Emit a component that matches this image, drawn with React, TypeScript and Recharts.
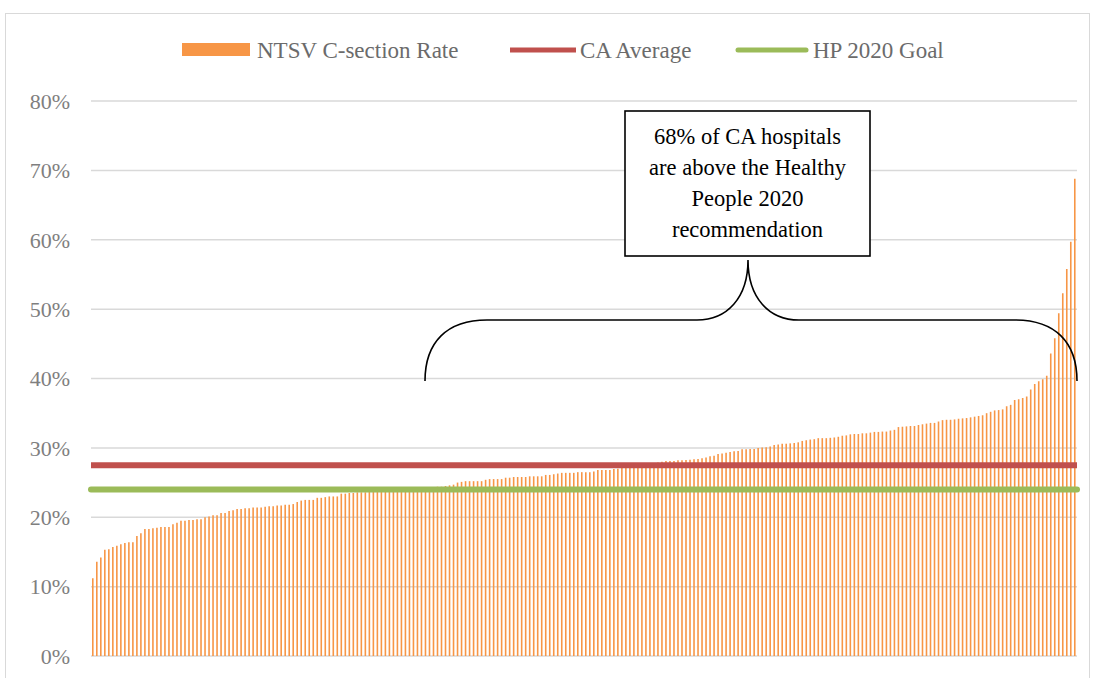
import React from "react";
import { BarChart, Bar, XAxis, YAxis, CartesianGrid, ReferenceLine, Legend } from "recharts";

// NTSV C-section rate per hospital (%), sorted ascending
const rates: number[] = [
  11.2, 13.6, 14.2, 15.3, 15.4, 15.7, 15.9, 16.1, 16.3, 16.4,
  16.4, 17.3, 17.7, 18.3, 18.3, 18.4, 18.5, 18.6, 18.6, 18.6,
  19.0, 19.2, 19.5, 19.5, 19.6, 19.6, 19.7, 19.7, 20.0, 20.1,
  20.3, 20.3, 20.6, 20.6, 20.9, 21.0, 21.2, 21.2, 21.3, 21.3,
  21.4, 21.4, 21.4, 21.5, 21.6, 21.6, 21.7, 21.7, 21.8, 21.8,
  21.9, 22.2, 22.4, 22.5, 22.5, 22.5, 22.8, 22.8, 22.9, 23.0,
  23.0, 23.0, 23.4, 23.4, 23.5, 23.5, 23.6, 23.6, 23.6, 23.7,
  23.7, 23.7, 23.8, 23.8, 23.8, 23.9, 23.9, 23.9, 24.0, 24.0,
  24.0, 24.1, 24.1, 24.2, 24.2, 24.3, 24.4, 24.4, 24.5, 24.6,
  24.7, 25.0, 25.1, 25.2, 25.2, 25.2, 25.2, 25.2, 25.4, 25.5,
  25.5, 25.5, 25.5, 25.7, 25.7, 25.8, 25.8, 25.8, 25.8, 25.9,
  25.9, 25.9, 25.9, 26.1, 26.1, 26.2, 26.3, 26.4, 26.4, 26.4,
  26.4, 26.5, 26.5, 26.5, 26.5, 26.6, 26.8, 26.8, 26.8, 26.8,
  26.95, 27.0, 27.1, 27.2, 27.3, 27.3, 27.4, 27.5, 27.6, 27.7,
  27.8, 27.9, 28.0, 28.1, 28.1, 28.1, 28.2, 28.2, 28.25, 28.3,
  28.35, 28.4, 28.5, 28.6, 28.8, 28.85, 29.1, 29.2, 29.3, 29.4,
  29.5, 29.55, 29.8, 29.8, 29.85, 29.85, 30.0, 30.05, 30.1, 30.2,
  30.4, 30.5, 30.6, 30.6, 30.65, 30.7, 30.8, 31.0, 31.1, 31.2,
  31.25, 31.4, 31.4, 31.4, 31.45, 31.5, 31.6, 31.75, 31.8, 31.95,
  32.0, 32.0, 32.1, 32.1, 32.2, 32.3, 32.3, 32.35, 32.35, 32.5,
  32.6, 33.0, 33.05, 33.1, 33.15, 33.15, 33.3, 33.4, 33.5, 33.6,
  33.6, 33.8, 34.0, 34.05, 34.05, 34.1, 34.2, 34.25, 34.3, 34.4,
  34.5, 34.6, 34.7, 35.0, 35.2, 35.4, 35.45, 35.55, 36.0, 36.2,
  36.9, 37.0, 37.2, 37.4, 38.4, 39.2, 39.6, 39.9, 40.4, 43.6,
  45.8, 49.4, 52.3, 55.8, 59.7, 68.8,
];

const caAverage = 27.5;
const hpGoal = 24;
const yTicks: number[] = [0, 10, 20, 30, 40, 50, 60, 70, 80];

const seriesNames = {
  rate: "NTSV C-section Rate",
  avg: "CA Average",
  goal: "HP 2020 Goal",
};

const annotationLines: string[] = [
  "68% of CA hospitals",
  "are above the Healthy",
  "People 2020",
  "recommendation",
];

const COLORS = {
  rate: "#F79646",
  avg: "#C0504D",
  goal: "#9BBB59",
  grid: "#D9D9D9",
  tick: "#7F7F7F",
  legend: "#6B6B6B",
};

const FONT = '"Liberation Serif", "Times New Roman", serif';

const data = rates.map((rate, i) => ({ hospital: `Hospital ${i + 1}`, rate }));

function LegendContent() {
  return (
    <svg width={1094} height={28} style={{ display: "block" }}>
      <rect x={182} y={7} width={68} height={13} fill={COLORS.rate} />
      <text x={257} y={14} dominantBaseline="central" fontFamily={FONT} fontSize={23} fill={COLORS.legend}>
        {seriesNames.rate}
      </text>
      <line x1={510} x2={576} y1={14} y2={14} stroke={COLORS.avg} strokeWidth={5} />
      <text x={580} y={14} dominantBaseline="central" fontFamily={FONT} fontSize={23} fill={COLORS.legend}>
        {seriesNames.avg}
      </text>
      <line x1={738} x2={806} y1={14} y2={14} stroke={COLORS.goal} strokeWidth={5} strokeLinecap="round" />
      <text x={813} y={14} dominantBaseline="central" fontFamily={FONT} fontSize={23} fill={COLORS.legend}>
        {seriesNames.goal}
      </text>
    </svg>
  );
}

export default function App() {
  return (
    <div
      style={{
        position: "absolute",
        left: 0,
        top: 0,
        width: 1094,
        height: 678,
        overflow: "hidden",
        background: "#fff",
        fontFamily: FONT,
      }}
    >
      <div
        style={{
          position: "absolute",
          left: 5,
          top: 13,
          width: 1083,
          height: 720,
          border: "1px solid #D9D9D9",
        }}
      />
      <div style={{ position: "absolute", left: 0, top: 0 }}>
        <BarChart
          width={1094}
          height={678}
          data={data}
          margin={{ top: 101, right: 17, bottom: 22, left: 0 }}
        >
          <CartesianGrid vertical={false} stroke={COLORS.grid} strokeWidth={1.5} />
          <XAxis dataKey="hospital" hide />
          <YAxis
            width={91}
            domain={[0, 80]}
            ticks={yTicks}
            interval={0}
            axisLine={false}
            tickLine={false}
            tickSize={0}
            tickMargin={21}
            tickFormatter={(v: number) => `${v}%`}
            tick={{ fontFamily: FONT, fontSize: 22, fill: COLORS.tick }}
          />
          <Legend
            verticalAlign="middle"
            align="center"
            content={() => <LegendContent />}
            wrapperStyle={{ top: 36, left: 0, width: 1094, height: 28 }}
          />
          <Bar dataKey="rate" name={seriesNames.rate} fill={COLORS.rate} barSize={1.6} isAnimationActive={false} />
          <ReferenceLine y={caAverage} stroke={COLORS.avg} strokeWidth={6} />
          <ReferenceLine y={hpGoal} stroke={COLORS.goal} strokeWidth={6} strokeLinecap="round" />
        </BarChart>
      </div>
      <svg
        width={1094}
        height={678}
        style={{ position: "absolute", left: 0, top: 0, pointerEvents: "none" }}
      >
        <path
          d="M 425 381 C 425 342, 447 320, 487 320 L 697 320 C 727 320, 748 298, 748 260 C 748 298, 769 320, 799 320 L 1015 320 C 1055 320, 1077 342, 1077 381"
          fill="none"
          stroke="#000"
          strokeWidth={1.6}
        />
        <rect x={625} y={111} width={245} height={145} fill="#fff" stroke="#000" strokeWidth={1.6} />
        {annotationLines.map((line, i) => (
          <text
            key={i}
            x={747.5}
            y={136 + i * 31}
            textAnchor="middle"
            dominantBaseline="central"
            fontFamily={FONT}
            fontSize={22.5}
            fill="#000"
          >
            {line}
          </text>
        ))}
      </svg>
    </div>
  );
}
